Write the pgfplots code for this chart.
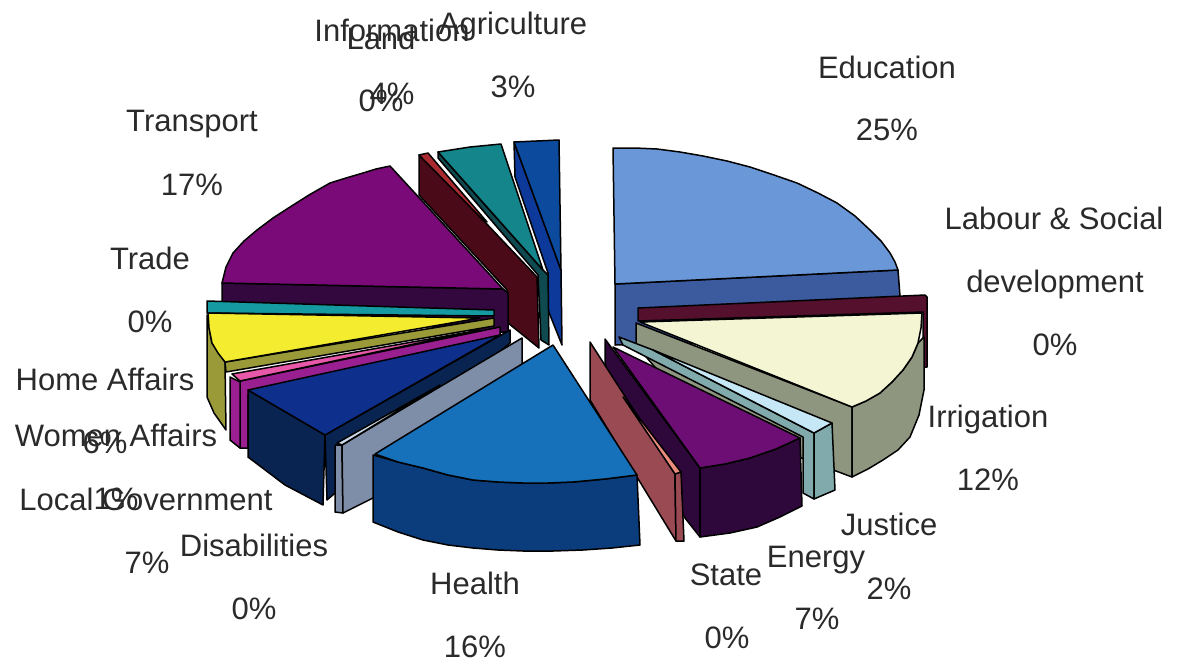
\documentclass[border=0pt]{standalone}
\usepackage{fontspec}
\setmainfont{Liberation Sans}
\usepackage{pgfplots}
\pgfplotsset{compat=1.18}
\definecolor{labeltext}{HTML}{2A2A2A}
\definecolor{eduT}{HTML}{6A97D8}\definecolor{eduS}{HTML}{3C5A9E}
\definecolor{labS}{HTML}{55102E}
\definecolor{irrT}{HTML}{F4F5D2}\definecolor{irrS}{HTML}{8F9680}
\definecolor{jusT}{HTML}{C6E8F6}\definecolor{jusS}{HTML}{80AAAC}
\definecolor{eneT}{HTML}{6C0E74}\definecolor{eneS}{HTML}{2E083A}
\definecolor{staT}{HTML}{E98C7C}\definecolor{staS}{HTML}{9A4A52}
\definecolor{heaT}{HTML}{1670BA}\definecolor{heaS}{HTML}{0B3C7C}
\definecolor{disT}{HTML}{CADAEA}\definecolor{disS}{HTML}{7F8EA8}
\definecolor{locT}{HTML}{0E2F8C}\definecolor{locS}{HTML}{0A2452}
\definecolor{womT}{HTML}{E858A8}\definecolor{womS}{HTML}{9A1F90}
\definecolor{homT}{HTML}{F4EC2E}\definecolor{homS}{HTML}{9A9A38}
\definecolor{traT}{HTML}{159AA2}
\definecolor{treT}{HTML}{7A0A78}\definecolor{treS}{HTML}{32083E}
\definecolor{lanT}{HTML}{A82A30}\definecolor{lanS}{HTML}{4A0A18}
\definecolor{infT}{HTML}{14858A}\definecolor{infS}{HTML}{0E4A50}
\definecolor{agrT}{HTML}{0C4A9E}\definecolor{agrS}{HTML}{0D3A9A}
\newcommand{\lab}[3]{\node[anchor=base,inner sep=0pt,text=labeltext,font=\fontsize{31}{36}\selectfont] at (axis cs:#1,#2) {#3};}
\begin{document}
\begin{tikzpicture}
\begin{axis}[
  width=1181pt, height=667pt, scale only axis,
  xmin=0, xmax=1181, ymin=0, ymax=667, y dir=reverse,
  ticks=none, axis line style={draw=none}, clip=false,
  every axis plot/.style={draw=black, line width=1.5pt, line join=round, mark=none}
]
% Agriculture
\addplot[fill=agrS] coordinates {(514,142)(515,177)(548,273)(548,310)(562,345)(561,270)} --cycle;
\addplot[fill=agrT] coordinates {(514,142)(559,140)(561,270)} --cycle;
% Information
\addplot[fill=infS] coordinates {(438,152)(438,158)(538,275)(541,340)(549,345)(548,275)(543,270)} --cycle;
\addplot[fill=infT] coordinates {(438,152)(470,147)(501,144)(543,270)} --cycle;
% Land
\addplot[fill=lanS] coordinates {(419,155)(419,195)(507,290)(508,323)(539,348)(537,277)(483,220)(423,157)} --cycle;
\addplot[fill=lanT] coordinates {(419,155)(428,153)(487,222)(483,220)} --cycle;
% Education
\addplot[fill=eduS] coordinates {(615,284)(898,270)(900,296)(900,340)(615,345)} --cycle;
\addplot[fill=eduT] coordinates {(613,148)(635,148)(657,149)(680,152)(703,156)(727,161)(750,167)(774,175)(797,183)(818,193)(837,203)(855,216)(870,230)(881,241)(890,253)(895,262)(898,270)(615,284)} --cycle;
% Transport
\addplot[fill=treS] coordinates {(222,283)(503,289)(508,293)(508,332)(494,332)(222,310)} --cycle;
\addplot[fill=treT] coordinates {(390,166)(376,169)(363,173)(346,178)(330,183)(309,195)(290,207)(273,218)(257,230)(244,241)(233,253)(226,267)(222,283)(503,289)} --cycle;
% Trade
\addplot[fill=traT] coordinates {(207,301)(494,310)(494,316)(207,313)} --cycle;
% Labour & Social development
\addplot[fill=labS] coordinates {(638,308)(925,295)(927,297)(927,367)(923,367)(923,312)(638,321)} --cycle;
% Irrigation
\addplot[fill=irrS] coordinates {(636,323)(852,407)(852,477)(700,420)(636,345)} --cycle;
\addplot[fill=irrS] coordinates {(852,407)(866,401)(880,393)(892,382)(903,370)(912,357)(918,343)(924,337)(924,390)(919,415)(910,437)(898,450)(883,460)(868,469)(852,477)} --cycle;
\addplot[fill=irrT] coordinates {(640,322)(922,313)(921,328)(918,343)(912,357)(903,370)(892,382)(880,393)(866,401)(852,407)} --cycle;
% Justice
\addplot[fill=jusS] coordinates {(619,337)(653,350)(814,433)(814,499)(803,493)(803,437)(623,345)} --cycle;
\addplot[fill=jusS] coordinates {(814,433)(832,423)(835,490)(814,499)} --cycle;
\addplot[fill=jusT] coordinates {(653,350)(832,423)(814,433)} --cycle;
% Energy
\addplot[fill=eneS] coordinates {(605,339)(700,468)(700,537)(685,518)(605,375)} --cycle;
\addplot[fill=eneS] coordinates {(700,468)(725,464)(750,458)(776,449)(800,438)(802,506)(780,517)(757,527)(730,533)(700,537)} --cycle;
\addplot[fill=eneT] coordinates {(613,347)(800,438)(776,449)(750,458)(725,464)(700,468)} --cycle;
% State
\addplot[fill=staS] coordinates {(590,342)(675,474)(676,541)(590,400)} --cycle;
\addplot[fill=staS] coordinates {(675,474)(681,472)(684,541)(676,541)} --cycle;
\addplot[fill=staT] coordinates {(623,397)(681,472)(675,474)} --cycle;
% Home Affairs
\addplot[fill=homS] coordinates {(207,315)(212,343)(225,362)(226,430)(214,413)(207,397)} --cycle;
\addplot[fill=homS] coordinates {(225,362)(494,318)(494,326)(226,372)} --cycle;
\addplot[fill=homT] coordinates {(208,313)(480,318)(225,362)(218,353)(212,343)(209,328)} --cycle;
% Women Affairs
\addplot[fill=womS] coordinates {(240,381)(500,327)(500,340)(248,395)(248,448)(240,448)} --cycle;
\addplot[fill=womS] coordinates {(230,377)(240,382)(240,448)(230,440)} --cycle;
\addplot[fill=womT] coordinates {(232,374)(480,330)(240,381)} --cycle;
% Local Government
\addplot[fill=locS] coordinates {(510,330)(510,343)(327,500)(325,435)} --cycle;
\addplot[fill=locS] coordinates {(248,390)(325,435)(323,505)(285,485)(248,457)} --cycle;
\addplot[fill=locT] coordinates {(500,335)(325,435)(248,390)} --cycle;
% Disabilities
\addplot[fill=disS] coordinates {(335,445)(342,445)(343,513)(335,512)} --cycle;
\addplot[fill=disS] coordinates {(522,338)(342,445)(343,513)(375,497)(375,455)(522,365)} --cycle;
\addplot[fill=disT] coordinates {(337,443)(440,385)(342,445)} --cycle;
% Health
\addplot[fill=heaS] coordinates {(373,455)(398,462)(423,468)(448,475)(473,480)(498,482)(523,483)(548,483)(573,482)(605,479)(637,475)(640,545)(612,548)(583,550)(553,551)(523,551)(498,550)(473,548)(448,545)(423,540)(398,532)(373,522)} --cycle;
\addplot[fill=heaT] coordinates {(553,345)(637,475)(605,479)(573,482)(548,483)(523,483)(498,482)(473,480)(448,475)(423,468)(398,462)(375,454)} --cycle;
% Category labels and shares
\lab{887}{78}{Education}\lab{887}{140}{25\%}
\lab{1054}{229}{Labour \& Social}\lab{1055}{292}{development}\lab{1055}{355}{0\%}
\lab{988}{427}{Irrigation}\lab{988}{490}{12\%}
\lab{889}{535}{Justice}\lab{889}{599}{2\%}
\lab{816}{567}{Energy}\lab{817}{629}{7\%}
\lab{726}{585}{State}\lab{727}{648}{0\%}
\lab{475}{594}{Health}\lab{475}{657}{16\%}
\lab{254}{556}{Disabilities}\lab{254}{619}{0\%}
\lab{146}{510}{Local Government}\lab{147}{573}{7\%}
\lab{116}{446}{Women Affairs}\lab{116}{509}{1\%}
\lab{105}{390}{Home Affairs}\lab{105}{453}{6\%}
\lab{150}{269}{Trade}\lab{150}{332}{0\%}
\lab{192}{131}{Transport}\lab{192}{195}{17\%}
\lab{381}{49}{Land}\lab{381}{111}{0\%}
\lab{392}{41}{Information}\lab{392}{104}{4\%}
\lab{513}{34}{Agriculture}\lab{513}{97}{3\%}
\end{axis}
\end{tikzpicture}
\end{document}
